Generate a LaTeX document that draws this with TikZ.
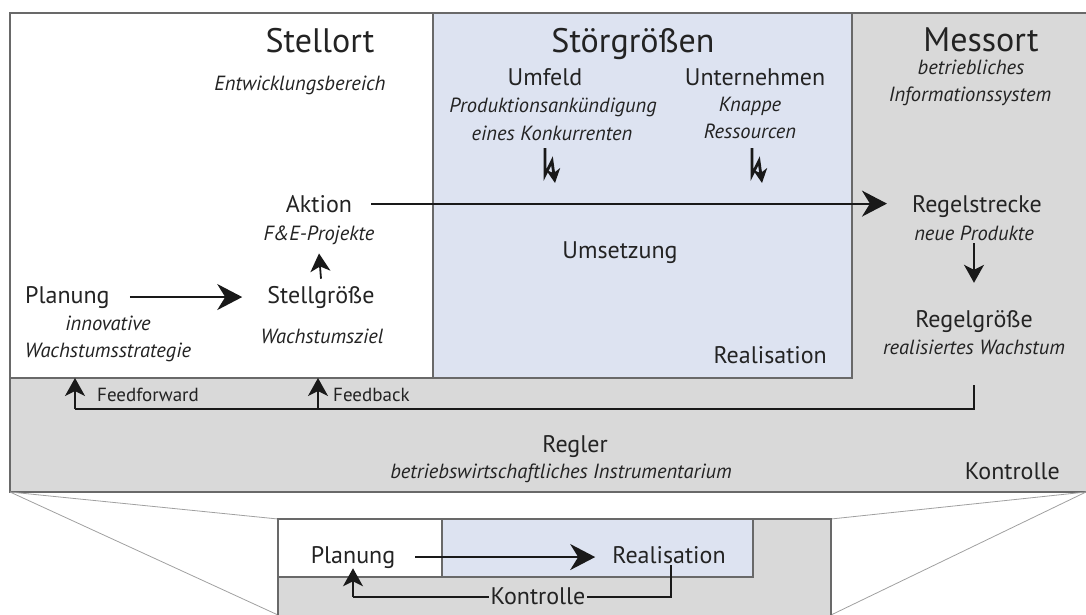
\documentclass[tikz,border=0pt]{standalone}
\usepackage{fontspec}
\setmainfont{PT Sans}
\usetikzlibrary{arrows.meta}
\definecolor{blueback}{RGB}{221,227,241}
\definecolor{grayback}{RGB}{217,217,217}
\definecolor{framecol}{RGB}{105,105,105}
\definecolor{inkcol}{RGB}{25,25,25}
\definecolor{textcol}{RGB}{35,35,35}
\definecolor{fancol}{RGB}{160,160,160}

\begin{document}
\begin{tikzpicture}[x=1pt,y=-1pt,
  region/.style={draw=framecol,line width=1.2pt},
  every node/.style={text=textcol},
  title/.style={inner sep=0pt,anchor=base,font=\fontsize{34}{34}\selectfont},
  main/.style={inner sep=0pt,anchor=base,font=\fontsize{24}{24}\selectfont},
  sub/.style={inner sep=0pt,anchor=base,font=\fontsize{20.5}{20.5}\selectfont\itshape},
  tiny/.style={inner sep=0pt,anchor=base west,font=\fontsize{19}{19}\selectfont},
  arr/.style={draw=inkcol,line width=2pt,-{Stealth[length=25pt,width=26pt,inset=8pt]}},
  sarr/.style={draw=inkcol,line width=1.8pt,-{Stealth[length=18pt,width=20pt,inset=5pt]}},
  loop/.style={draw=inkcol,line width=1.8pt},
  fan/.style={draw=fancol,line width=0.8pt},
  bolt/.pic={\draw[draw=inkcol,line width=2.8pt,line join=miter,
      -{Stealth[length=14pt,width=14pt,inset=4pt]}]
      (0,0) -- (0,27) -- (7,13) -- (10,35);}
]
\useasboundingbox (0,0) rectangle (1086,615);

% --- large control loop frame ---
\fill[grayback] (10,13) rectangle (1086,492);
\fill[white] (10,13) rectangle (433,378);
\fill[blueback] (433,13) rectangle (852,378);
\draw[region] (10,378) -- (433,378) (433,13) -- (433,378) -- (852,378) -- (852,13);
\draw[region] (1086,13) -- (10,13) -- (10,492) -- (1086,492);

% --- fan lines towards the overview ---
\draw[fan] (10,492) -- (278,519);
\draw[fan] (10,492) -- (278,615);
\draw[fan] (1086,492) -- (831,519);
\draw[fan] (1086,492) -- (831,615);

% --- overview box ---
\fill[grayback] (278,519) rectangle (831,615);
\fill[white] (278,519) rectangle (442,577);
\fill[blueback] (442,519) rectangle (753,577);
\draw[region] (278,615) -- (278,519) -- (831,519) -- (831,615);
\draw[region] (278,577) -- (753,577) -- (753,519);
\draw[region] (442,519) -- (442,577);

% --- column headings ---
\node[title] (stellort) at (320,53) {Stellort};
\node[sub] (entw) at (300,91) {Entwicklungsbereich};
\node[title] (stoer) at (633,53) {Störgrößen};
\node[main] (umfeld) at (545,86) {Umfeld};
\node[sub] (prod) at (553,113) {Produktionsankündigung};
\node[sub] (konk) at (552,140) {eines Konkurrenten};
\node[main] (untern) at (755,86) {Unternehmen};
\node[sub] (knappe) at (750,112) {Knappe};
\node[sub] (ress) at (750,139) {Ressourcen};
\node[title] (messort) at (981,52) {Messort};
\node[sub] (betr) at (971,75) {betriebliches};
\node[sub] (info) at (970,102) {Informationssystem};

% --- disturbances ---
\pic at (545,148) {bolt};
\pic at (752,148) {bolt};

% --- loop elements ---
\node[main] (aktion) at (319,212) {Aktion};
\node[sub] (fe) at (319,240) {F\&E-Projekte};
\node[main] (stellgr) at (321,303) {Stellgröße};
\node[sub] (wziel) at (322,343) {Wachstumsziel};
\node[main,anchor=base west] (planung) at (25,303) {Planung};
\node[sub] (innov) at (108,330) {innovative};
\node[sub] (wstrat) at (108,357) {Wachstumsstrategie};
\node[main] (umsetz) at (620,258) {Umsetzung};
\node[main,anchor=base east] (realis) at (827,363) {Realisation};
\node[main] (rstrecke) at (977,212) {Regelstrecke};
\node[sub] (neue) at (974,240) {neue Produkte};
\node[main] (rgroesse) at (974,327) {Regelgröße};
\node[sub] (realw) at (974,354) {realisiertes Wachstum};
\node[main] (regler) at (575,452) {Regler};
\node[sub] (instr) at (561,478) {betriebswirtschaftliches Instrumentarium};
\node[main,anchor=base east] (kontr) at (1060,479) {Kontrolle};

% --- forward path ---
\draw[arr] ([xshift=19pt]aktion.east) -- ([xshift=-25pt]aktion.east -| rstrecke.west);
\draw[arr] ([xshift=20pt]planung.east) -- ([xshift=-25pt]planung.east -| stellgr.west);
\draw[sarr] ([yshift=7pt]stellgr.north) -- ([yshift=-9pt]fe.south);
\draw[sarr] ([yshift=-3pt]neue.south) -- ([yshift=27pt]rgroesse.north);

% --- feedback / feedforward ---
\coordinate (fbstart) at (974,385);
\coordinate (fbline) at (0,409);
\coordinate (fftip) at (75,378);
\coordinate (fbtip) at (318,378);
\draw[loop] (fbstart) -- (fbstart |- fbline) -- (fftip |- fbline);
\draw[sarr] (fftip |- fbline) -- (fftip);
\draw[sarr] (fbtip |- fbline) -- (fbtip);
\node[tiny] (ffwd) at (97,401) {Feedforward};
\node[tiny] (fbck) at (333,401) {Feedback};

% --- overview loop ---
\node[main] (oplan) at (353,563) {Planung};
\node[main] (oreal) at (669,563) {Realisation};
\draw[arr] ([xshift=20pt]oplan.east) -- ([xshift=-17pt]oplan.east -| oreal.west);
\coordinate (oline) at (0,597);
\draw[loop] ([xshift=2pt,yshift=-2pt]oreal.south) -- ([xshift=2pt]oreal.south |- oline) -- (oplan.south |- oline);
\draw[sarr] (oplan.south |- oline) -- (oplan.south);
\node[main,fill=grayback,inner xsep=2pt,inner ysep=1pt] (okontr) at (538,604) {Kontrolle};
\end{tikzpicture}
\end{document}
